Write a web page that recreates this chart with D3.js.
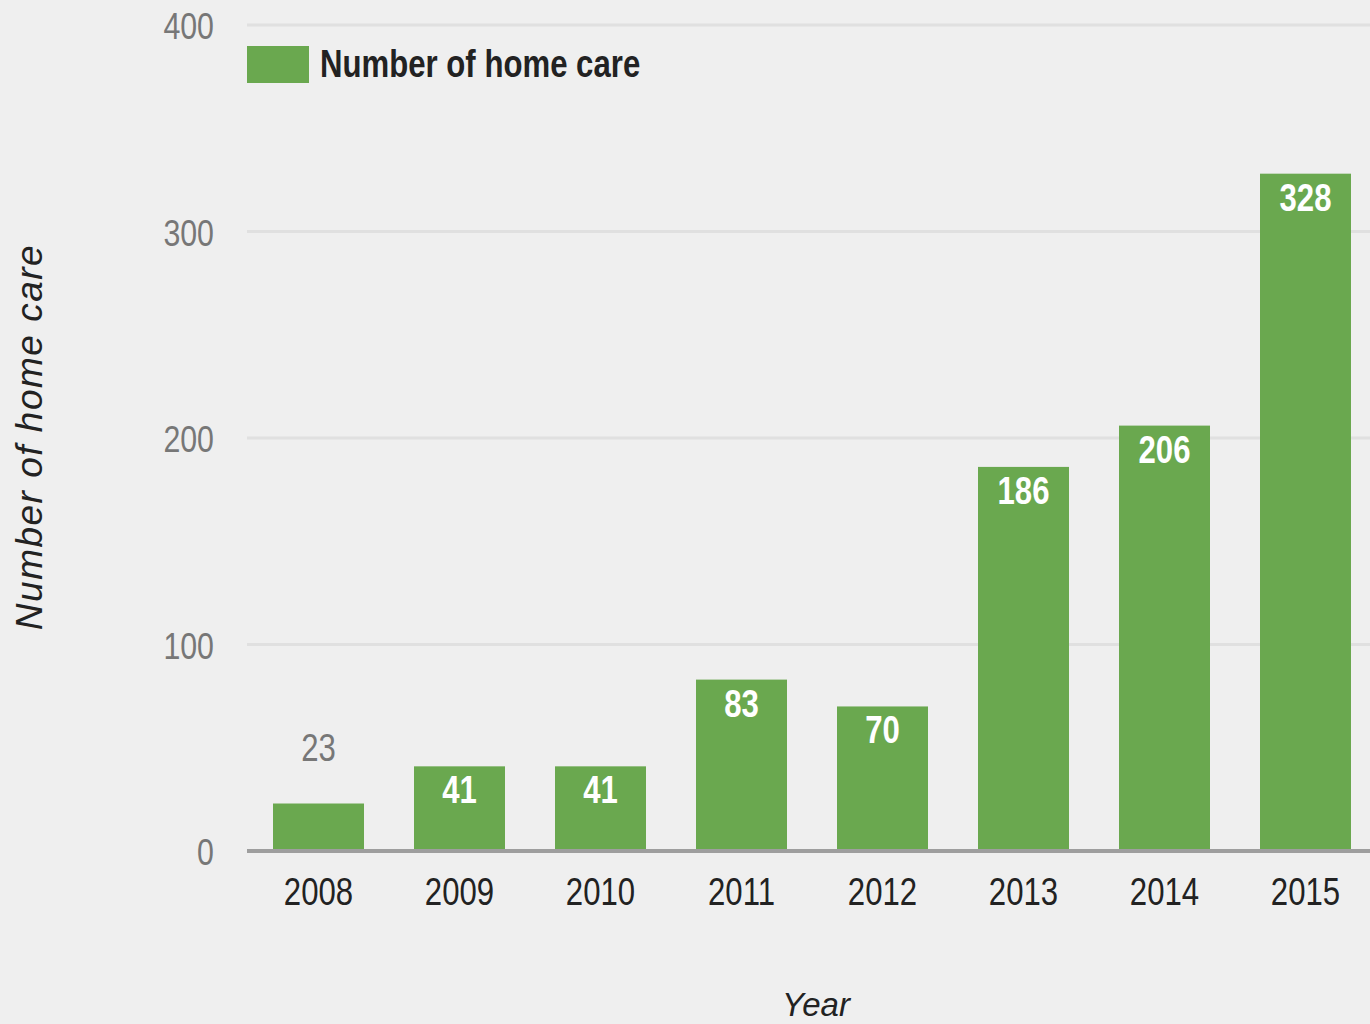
<!DOCTYPE html>
<html>
<head>
<meta charset="utf-8">
<script src="https://cdn.jsdelivr.net/npm/d3@7"></script>
<style>
  html, body { margin: 0; padding: 0; background: #efefef; }
  svg { display: block; }
</style>
</head>
<body>
<svg id="chart" width="1370" height="1024"></svg>
<script>
const years = ["2008", "2009", "2010", "2011", "2012", "2013", "2014", "2015"];
const values = [23, 41, 41, 83, 70, 186, 206, 328];
const yTicks = [0, 100, 200, 300, 400];
const seriesName = "Number of home care";
const xTitle = "Year";
const yTitle = "Number of home care";

const width = 1370, height = 1024;
const svg = d3.select("#chart");
const font = "'Liberation Sans', Arial, sans-serif";
const squeeze = 0.82; // condensed look of the original font
const green = "#6aa84f";

svg.append("rect").attr("width", width).attr("height", height).attr("fill", "#efefef");

const x = d3.scaleBand()
    .domain(years)
    .range([248, 1376])
    .paddingInner(0.3546)
    .paddingOuter(0.1773);

const y = d3.scaleLinear()
    .domain([0, 400])
    .range([851, 25]);

// condensed text helper: group placed at (px, py), glyphs squeezed horizontally
function label(parent, px, py, txt, opts) {
    const g = parent.append("g")
        .attr("transform", `translate(${px},${py}) scale(${squeeze},1)`);
    return g.append("text")
        .attr("text-anchor", opts.anchor || "start")
        .attr("font-family", font)
        .attr("font-weight", opts.weight || "normal")
        .attr("font-size", opts.size || 37)
        .attr("fill", opts.fill || "#222")
        .text(txt);
}

// grid
svg.append("g").selectAll("line")
    .data(yTicks.filter(d => d > 0))
    .join("line")
    .attr("x1", 247).attr("x2", width)
    .attr("y1", d => y(d)).attr("y2", d => y(d))
    .attr("stroke", "#e0e0e0").attr("stroke-width", 3);

// y tick labels
const yLab = svg.append("g");
yTicks.forEach(d => label(yLab, 214, y(d) + 14, d, { anchor: "end", fill: "#777" }));

// bars
svg.append("g").selectAll("rect")
    .data(values)
    .join("rect")
    .attr("x", (d, i) => x(years[i]))
    .attr("y", d => y(d))
    .attr("width", x.bandwidth())
    .attr("height", d => y(0) - y(d))
    .attr("fill", green);

// baseline
svg.append("line")
    .attr("x1", 247).attr("x2", width)
    .attr("y1", y(0)).attr("y2", y(0))
    .attr("stroke", "#9e9e9e").attr("stroke-width", 4);

// value labels
const vLab = svg.append("g");
values.forEach((d, i) => {
    const cx = x(years[i]) + x.bandwidth() / 2;
    const inside = y(0) - y(d) > 60;
    label(vLab, cx, inside ? y(d) + 37 : y(d) - 43, d, {
        anchor: "middle",
        weight: inside ? "bold" : "normal",
        size: 38,
        fill: inside ? "#fff" : "#777"
    });
});

// x labels
const xLab = svg.append("g");
years.forEach(d => label(xLab, x(d) + x.bandwidth() / 2, 905, d, { anchor: "middle", size: 38 }));

// legend
svg.append("rect")
    .attr("x", 247).attr("y", 46)
    .attr("width", 62).attr("height", 37)
    .attr("fill", green);
label(svg, 320, 77, seriesName, { weight: "bold", size: 38 });

// axis titles
svg.append("text")
    .attr("transform", "translate(42,437) rotate(-90)")
    .attr("text-anchor", "middle")
    .attr("font-family", font)
    .attr("font-style", "italic")
    .attr("font-size", 37)
    .attr("letter-spacing", 1.5)
    .attr("fill", "#222")
    .text(yTitle);

svg.append("text")
    .attr("x", 816).attr("y", 1016)
    .attr("text-anchor", "middle")
    .attr("font-family", font)
    .attr("font-style", "italic")
    .attr("font-size", 33)
    .attr("fill", "#222")
    .text(xTitle);
</script>
</body>
</html>
